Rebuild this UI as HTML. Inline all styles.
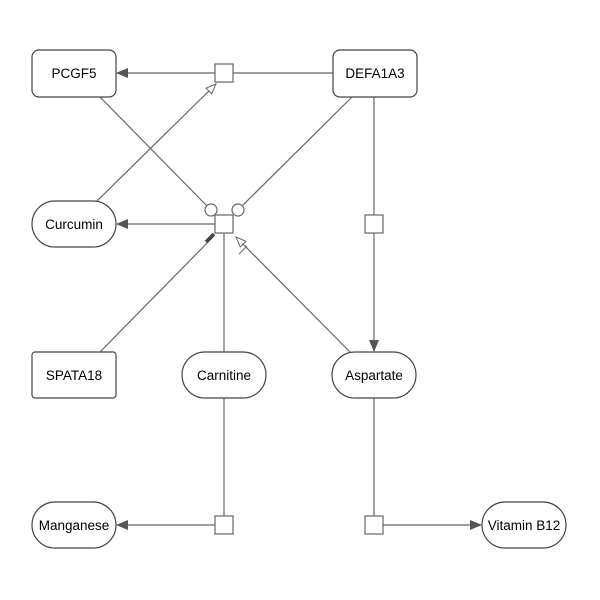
<!DOCTYPE html>
<html><head><style>body{margin:0;background:#fff}svg{display:block}</style></head><body>
<svg width="600" height="600" viewBox="0 0 600 600" font-family="Liberation Sans, sans-serif" font-size="13.5">
<defs>
<marker id="fa" markerWidth="12" markerHeight="10" refX="11" refY="5" orient="auto" markerUnits="userSpaceOnUse"><path d="M0,0 L12,5 L0,10 Z" fill="#555"/></marker>
<marker id="oa" markerWidth="12" markerHeight="10" refX="11" refY="5" orient="auto" markerUnits="userSpaceOnUse"><path d="M1,1 L11,5 L1,9 Z" fill="#fff" stroke="#666"/></marker>
</defs>
<g stroke="#666" stroke-width="1.2" fill="none">
<line x1="333" y1="73" x2="233" y2="73"/>
<line x1="215" y1="73" x2="117" y2="73" marker-end="url(#fa)"/>
<line x1="100" y1="97" x2="207" y2="206"/>
<line x1="352" y1="97" x2="242" y2="206"/>
<line x1="97" y1="201" x2="216" y2="84" marker-end="url(#oa)"/>
<line x1="215" y1="224" x2="117" y2="224" marker-end="url(#fa)"/>
<line x1="100" y1="352" x2="213" y2="237"/>
<line x1="350" y1="352" x2="236" y2="237" marker-end="url(#oa)"/>
<line x1="224" y1="233" x2="224" y2="352"/>
<line x1="224" y1="398" x2="224" y2="516"/>
<line x1="215" y1="525" x2="117" y2="525" marker-end="url(#fa)"/>
<line x1="374" y1="97" x2="374" y2="215"/>
<line x1="374" y1="233" x2="374" y2="351" marker-end="url(#fa)"/>
<line x1="374" y1="398" x2="374" y2="516"/>
<line x1="383" y1="525" x2="481" y2="525" marker-end="url(#fa)"/>
</g>
<line x1="239" y1="254" x2="247" y2="246" stroke="#777" stroke-width="1.2"/>
<g stroke="#666" stroke-width="1.2" fill="#fff">
<rect x="215" y="64" width="18" height="18"/>
<rect x="215" y="215" width="18" height="18"/>
<circle cx="211" cy="210" r="6"/>
<circle cx="238" cy="210" r="6"/>
<rect x="365" y="215" width="18" height="18"/>
<rect x="215" y="516" width="18" height="18"/>
<rect x="365" y="516" width="18" height="18"/>
</g>
<line x1="206" y1="242" x2="214" y2="234" stroke="#444" stroke-width="3.5"/>
<g stroke="#444" stroke-width="1.2" fill="#fff">
<rect x="32" y="50" width="84" height="47" rx="7"/>
<rect x="333" y="50" width="84" height="47" rx="7"/>
<rect x="32" y="201" width="84" height="46" rx="23" ry="23"/>
<rect x="32" y="352" width="84" height="46" rx="3"/>
<rect x="182" y="352" width="84" height="46" rx="23"/>
<rect x="332" y="352" width="84" height="46" rx="23"/>
<rect x="32" y="502" width="84" height="46" rx="23"/>
<rect x="482" y="502" width="84" height="46" rx="23"/>
</g>
<g fill="#000" text-anchor="middle">
<text x="74" y="78">PCGF5</text>
<text x="375" y="78">DEFA1A3</text>
<text x="74" y="229">Curcumin</text>
<text x="74" y="380">SPATA18</text>
<text x="224" y="380">Carnitine</text>
<text x="374" y="380">Aspartate</text>
<text x="74" y="530">Manganese</text>
<text x="524" y="530">Vitamin B12</text>
</g>
</svg>
</body></html>
